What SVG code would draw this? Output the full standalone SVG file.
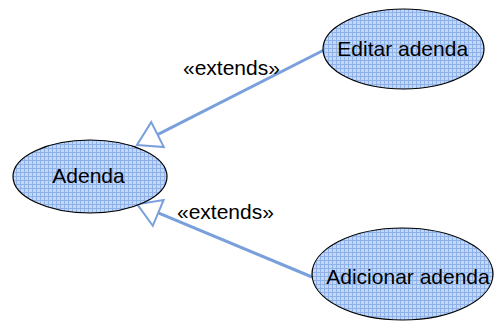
<svg xmlns="http://www.w3.org/2000/svg" width="497" height="327" viewBox="0 0 497 327">
<defs>
<pattern id="grid" width="4" height="4" patternUnits="userSpaceOnUse">
<rect width="4" height="4" fill="#c3d7f6"/>
<path d="M0 0.5H4M0.5 0V4" stroke="#8fb1ea" stroke-width="1"/>
</pattern>
<style>
.uc{fill:url(#grid);stroke:#000;stroke-width:1.2}
.t{font-family:"Liberation Sans",Arial,sans-serif;font-size:21px;fill:#000}
.c{text-anchor:middle}
.ln{stroke:#7aa0dc;stroke-width:3;fill:none}
.hd{stroke:#7aa0dc;stroke-width:2;fill:#fff;stroke-linejoin:miter}
</style>
</defs>
<rect width="497" height="327" fill="#fff"/>
<g id="connectors">
<g id="e1">
<line class="ln" x1="324" y1="50" x2="157.5" y2="134.6"/>
<polygon class="hd" points="137,145 163.8,147.1 151.2,122.1"/>
<text class="t" x="183" y="75">«extends»</text>
</g>
<g id="e2">
<line class="ln" x1="312" y1="277" x2="158.2" y2="212.9"/>
<polygon class="hd" points="137.3,204.3 152.8,225.8 163.6,200"/>
<text class="t" x="177" y="219">«extends»</text>
</g>
</g>
<g id="adenda">
<ellipse class="uc" cx="90" cy="176.5" rx="77" ry="36.5"/>
<text class="t c" x="88.5" y="182.5">Adenda</text>
</g>
<g id="editar">
<ellipse class="uc" cx="403.5" cy="49" rx="80.5" ry="40"/>
<text class="t c" x="402.7" y="55.5">Editar adenda</text>
</g>
<g id="adicionar">
<ellipse class="uc" cx="402.5" cy="274" rx="90.5" ry="46"/>
<text class="t c" x="408" y="284">Adicionar adenda</text>
</g>
</svg>
